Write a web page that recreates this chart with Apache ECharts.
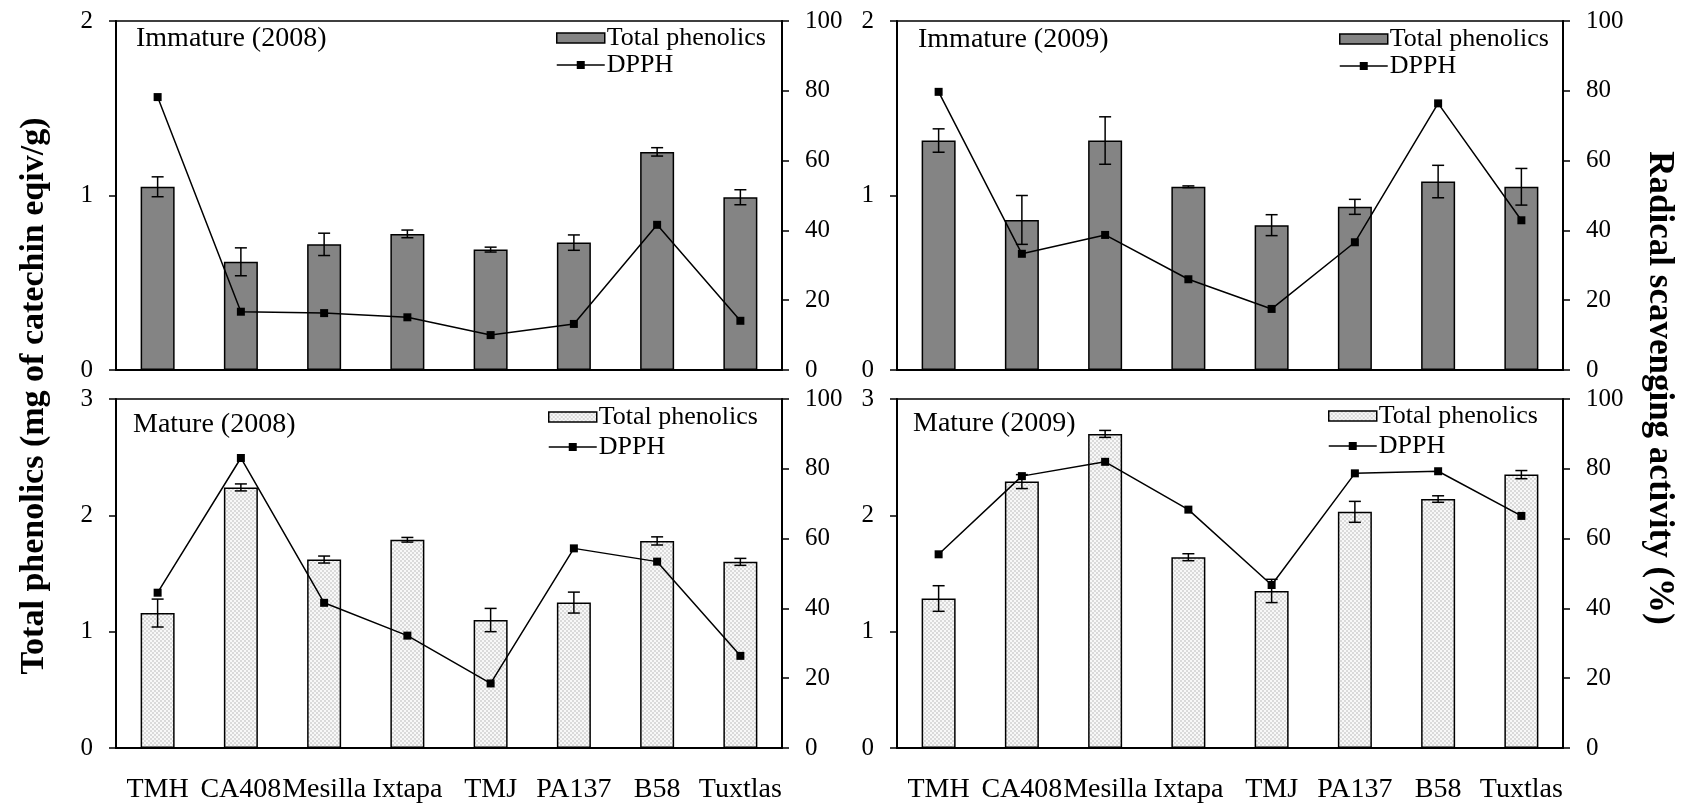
<!DOCTYPE html>
<html>
<head>
<meta charset="utf-8">
<script src="https://cdn.jsdelivr.net/npm/echarts@6/dist/echarts.min.js"></script>
<style>
  html, body { margin: 0; padding: 0; background: #fff; }
  #chart { width: 1687px; height: 804px; }
</style>
</head>
<body>
<div id="chart"></div>
<script>
// Cultivars on the category axis
const categories = ['TMH', 'CA408', 'Mesilla', 'Ixtapa', 'TMJ', 'PA137', 'B58', 'Tuxtlas'];

// Tick labels
const phenolTicksImmature = [0, 1, 2];
const phenolTicksMature = [0, 1, 2, 3];
const dpphTicks = [0, 20, 40, 60, 80, 100];

// Immature fruit, 2008
const imm2008Phenolics = [1.05, 0.62, 0.72, 0.78, 0.69, 0.73, 1.25, 0.99];
const imm2008Error     = [0.057, 0.08, 0.064, 0.022, 0.014, 0.044, 0.024, 0.043];
const imm2008Dpph      = [78.2, 16.7, 16.3, 15.1, 10.0, 13.2, 41.6, 14.1];

// Immature fruit, 2009
const imm2009Phenolics = [1.315, 0.86, 1.315, 1.05, 0.83, 0.935, 1.08, 1.05];
const imm2009Error     = [0.067, 0.14, 0.136, 0.005, 0.06, 0.043, 0.093, 0.105];
const imm2009Dpph      = [79.7, 33.3, 38.7, 26.0, 17.5, 36.6, 76.4, 42.9];

// Mature fruit, 2008
const mat2008Phenolics = [1.16, 2.24, 1.62, 1.79, 1.10, 1.25, 1.78, 1.60];
const mat2008Error     = [0.12, 0.03, 0.03, 0.02, 0.10, 0.09, 0.035, 0.03];
const mat2008Dpph      = [44.5, 83.1, 41.6, 32.2, 18.5, 57.2, 53.4, 26.4];

// Mature fruit, 2009
const mat2009Phenolics = [1.285, 2.29, 2.70, 1.64, 1.35, 2.03, 2.14, 2.35];
const mat2009Error     = [0.11, 0.06, 0.03, 0.03, 0.10, 0.09, 0.028, 0.035];
const mat2009Dpph      = [55.5, 77.9, 82.0, 68.3, 46.7, 78.7, 79.3, 66.5];

const FONT = '"Liberation Serif", "Times New Roman", Times, serif';

// Fine stippled texture used for the mature-fruit bars
function stippleCanvas() {
  const c = document.createElement('canvas');
  c.width = 4; c.height = 4;
  const g = c.getContext('2d');
  g.fillStyle = '#f8f8f8';
  g.fillRect(0, 0, 4, 4);
  g.fillStyle = '#dadada';
  g.fillRect(0, 0, 2, 2);
  g.fillRect(2, 2, 2, 2);
  return c;
}
const stippleFill = { image: stippleCanvas(), repeat: 'repeat' };
const darkFill = '#848484';

const panels = [
  { label: 'Immature (2008)', phen: imm2008Phenolics, err: imm2008Error, dpph: imm2008Dpph,
    ticks: phenolTicksImmature, fill: darkFill, showCats: false,
    grid: { left: 116, top: 21 }, titlePos: [136, 39], legendPos: [556, 25], legendGap: 1 },
  { label: 'Immature (2009)', phen: imm2009Phenolics, err: imm2009Error, dpph: imm2009Dpph,
    ticks: phenolTicksImmature, fill: darkFill, showCats: false,
    grid: { left: 897, top: 21 }, titlePos: [918, 40], legendPos: [1339, 26], legendGap: 1 },
  { label: 'Mature (2008)', phen: mat2008Phenolics, err: mat2008Error, dpph: mat2008Dpph,
    ticks: phenolTicksMature, fill: stippleFill, showCats: true,
    grid: { left: 116, top: 399 }, titlePos: [133, 425], legendPos: [548, 404], legendGap: 4 },
  { label: 'Mature (2009)', phen: mat2009Phenolics, err: mat2009Error, dpph: mat2009Dpph,
    ticks: phenolTicksMature, fill: stippleFill, showCats: true,
    grid: { left: 897, top: 399 }, titlePos: [913, 424], legendPos: [1328, 403], legendGap: 4 }
];

const PLOT_W = 666, PLOT_H = 349;
const axisLine = { show: true, lineStyle: { color: '#000', width: 2 } };
const tickStyle = { show: true, inside: false, length: 7, lineStyle: { color: '#000', width: 1.5 } };
const labelFont = { color: '#000', fontFamily: FONT, fontSize: 25 };

const grids = [], xAxes = [], yAxes = [], series = [], legends = [], graphics = [];

panels.forEach((p, k) => {
  grids.push({
    left: p.grid.left, top: p.grid.top, width: PLOT_W, height: PLOT_H,
    outerBoundsMode: 'none',
    show: true, borderColor: '#000', borderWidth: 1.5, backgroundColor: 'transparent'
  });
  xAxes.push({
    type: 'category', gridIndex: k, data: categories, boundaryGap: true,
    axisLine: axisLine, axisTick: { show: false },
    axisLabel: Object.assign({}, labelFont, {
      show: p.showCats, interval: 0, margin: 28, fontSize: 28
    }),
    splitLine: { show: false }
  });
  const pMax = p.ticks[p.ticks.length - 1];
  yAxes.push({
    type: 'value', gridIndex: k, position: 'left', min: p.ticks[0], max: pMax, interval: 1,
    axisLine: axisLine, axisTick: tickStyle, splitLine: { show: false },
    axisLabel: Object.assign({}, labelFont, { margin: 23 })
  });
  yAxes.push({
    type: 'value', gridIndex: k, position: 'right',
    min: dpphTicks[0], max: dpphTicks[dpphTicks.length - 1], interval: 20,
    axisLine: axisLine, axisTick: tickStyle, splitLine: { show: false },
    axisLabel: Object.assign({}, labelFont, { margin: 23 })
  });

  // Total phenolics bars
  series.push({
    name: 'Total phenolics', type: 'bar', xAxisIndex: k, yAxisIndex: 2 * k,
    data: p.phen, barWidth: 34, z: 2,
    itemStyle: { color: p.fill, borderColor: '#000', borderWidth: 1.5 }
  });
  // Standard deviation whiskers on the bars
  series.push({
    name: 'sd', type: 'custom', xAxisIndex: k, yAxisIndex: 2 * k, z: 3,
    encode: { x: 0, y: 1 },
    data: p.phen.map((v, i) => [i, v, p.err[i]]),
    renderItem: function (params, api) {
      const i = api.value(0), v = api.value(1), e = api.value(2);
      const hi = api.coord([i, v + e]);
      const lo = api.coord([i, v - e]);
      const cap = 6;
      const st = { stroke: '#000', lineWidth: 1.5 };
      return {
        type: 'group',
        children: [
          { type: 'line', shape: { x1: hi[0], y1: hi[1], x2: lo[0], y2: lo[1] }, style: st },
          { type: 'line', shape: { x1: hi[0] - cap, y1: hi[1], x2: hi[0] + cap, y2: hi[1] }, style: st },
          { type: 'line', shape: { x1: lo[0] - cap, y1: lo[1], x2: lo[0] + cap, y2: lo[1] }, style: st }
        ]
      };
    }
  });
  // DPPH radical scavenging line
  series.push({
    name: 'DPPH', type: 'line', xAxisIndex: k, yAxisIndex: 2 * k + 1,
    data: p.dpph, z: 4,
    symbol: 'rect', symbolSize: 8, showSymbol: true,
    lineStyle: { color: '#000', width: 1.5 },
    itemStyle: { color: '#000' }
  });

  legends.push({
    left: p.legendPos[0], top: p.legendPos[1], orient: 'vertical', align: 'left',
    padding: 0, itemGap: p.legendGap, itemWidth: 48, itemHeight: 10,
    selectedMode: false,
    textStyle: { color: '#000', fontFamily: FONT, fontSize: 26, padding: [0, 0, 0, -3] },
    data: [
      { name: 'Total phenolics', icon: 'rect',
        itemStyle: { color: p.fill, borderColor: '#000', borderWidth: 1.5 } },
      { name: 'DPPH', itemStyle: { color: '#000' }, lineStyle: { color: '#000', width: 1.5 } }
    ]
  });

  graphics.push({
    type: 'text', x: p.titlePos[0], y: p.titlePos[1],
    style: { text: p.label, fill: '#000', fontFamily: FONT, fontSize: 28,
             align: 'left', verticalAlign: 'middle' }
  });
});

// Shared axis titles
graphics.push({
  type: 'text', x: 34, y: 396, rotation: Math.PI / 2,
  style: { text: 'Total phenolics (mg of catechin eqiv/g)', fill: '#000', fontFamily: FONT,
           fontSize: 34, fontWeight: 'bold', align: 'center', verticalAlign: 'middle' }
});
graphics.push({
  type: 'text', x: 1659, y: 388, rotation: -Math.PI / 2,
  style: { text: 'Radical scavenging activity (%)', fill: '#000', fontFamily: FONT,
           fontSize: 35, fontWeight: 'bold', align: 'center', verticalAlign: 'middle' }
});

const chart = echarts.init(document.getElementById('chart'));
chart.setOption({
  animation: false,
  backgroundColor: '#fff',
  grid: grids,
  xAxis: xAxes,
  yAxis: yAxes,
  series: series,
  legend: legends,
  graphic: graphics
});
</script>
</body>
</html>
